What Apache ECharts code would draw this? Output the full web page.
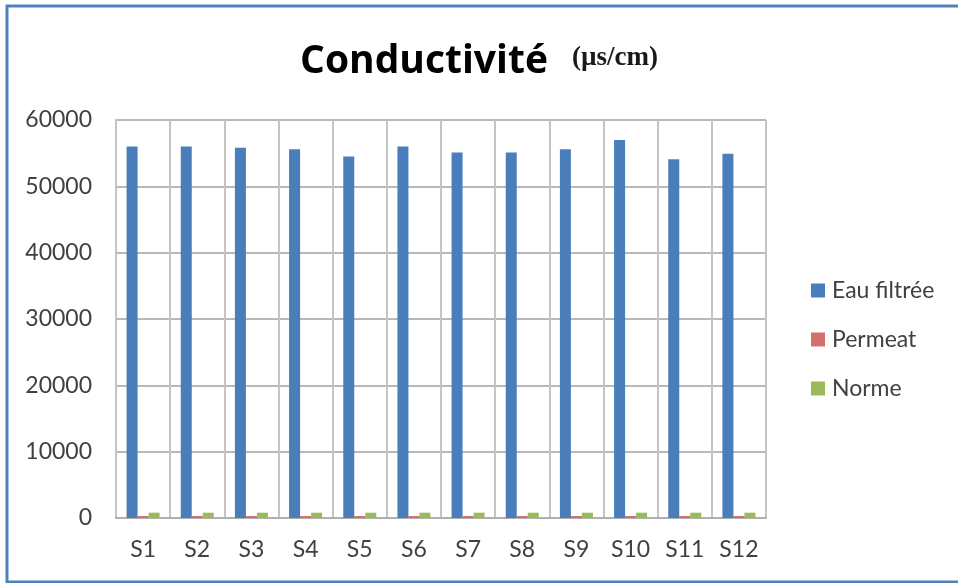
<!DOCTYPE html>
<html>
<head>
<meta charset="utf-8">
<script src="https://cdn.jsdelivr.net/npm/echarts@6/dist/echarts.min.js"></script>
<style>
  html, body { margin: 0; padding: 0; background: #fff; }
  #chart { width: 958px; height: 583px; }
</style>
</head>
<body>
<div id="chart"></div>
<script>
const categories = ['S1', 'S2', 'S3', 'S4', 'S5', 'S6', 'S7', 'S8', 'S9', 'S10', 'S11', 'S12']
const eauFiltree = [56000, 56000, 55800, 55600, 54500, 56000, 55100, 55100, 55600, 57000, 54100, 54900]
const permeat = [300, 300, 300, 300, 300, 300, 300, 300, 300, 300, 300, 300]
const norme = [800, 800, 800, 800, 800, 800, 800, 800, 800, 800, 800, 800]
const yTicks = [0, 10000, 20000, 30000, 40000, 50000, 60000]

const labelFont = 'Lato, "Open Sans", sans-serif'
const myEcharts = echarts.init(document.getElementById('chart'))

myEcharts.setOption({
  animation: false,
  title: {
    text: '{a|Conductivité}{b|(µs/cm)}',
    left: 'center',
    top: 37,
    textStyle: {
      rich: {
        a: { fontFamily: '"Open Sans", sans-serif', fontWeight: 'bold', fontSize: 39, color: '#000' },
        b: { fontFamily: '"Liberation Serif", serif', fontWeight: 'bold', fontSize: 27, color: '#1a1a1a', padding: [0, 0, 6, 24] },
      },
    },
  },
  graphic: [{
    type: 'rect',
    shape: { x: 7, y: 6, width: 1000, height: 576 },
    style: { fill: 'none', stroke: '#4f81bd', lineWidth: 3 },
    silent: true,
  }],
  legend: {
    orient: 'vertical',
    left: 806,
    top: 274,
    itemWidth: 14,
    itemHeight: 14,
    itemGap: 26,
    icon: 'rect',
    textStyle: { fontFamily: labelFont, fontSize: 23, color: '#404040', padding: [0, 0, 0, 2] },
    data: ['Eau filtrée', 'Permeat', 'Norme'],
  },
  grid: { left: 116, right: 192, top: 120, bottom: 65 },
  xAxis: {
    type: 'category',
    data: categories,
    axisLine: { lineStyle: { color: '#b0b0b0', width: 2 } },
    axisTick: { show: false },
    axisLabel: { fontFamily: labelFont, fontSize: 23, color: '#404040', margin: 20 },
    splitLine: { show: true, lineStyle: { color: '#c4c4c4', width: 2 } },
  },
  yAxis: {
    type: 'value',
    min: yTicks[0],
    max: yTicks[yTicks.length - 1],
    interval: 10000,
    axisLine: { show: true, lineStyle: { color: '#c4c4c4', width: 2 } },
    axisTick: { show: false },
    axisLabel: { fontFamily: labelFont, fontSize: 23, color: '#404040', margin: 24, formatter: v => String(v) },
    splitLine: { lineStyle: { color: '#b8b8b8', width: 2 } },
  },
  series: [
    { name: 'Eau filtrée', type: 'bar', data: eauFiltree, barWidth: 11, barGap: '0%', itemStyle: { color: '#4a7ebb' } },
    { name: 'Permeat', type: 'bar', data: permeat, barWidth: 11, barGap: '0%', itemStyle: { color: '#d2716e' } },
    { name: 'Norme', type: 'bar', data: norme, barWidth: 11, barGap: '0%', itemStyle: { color: '#9bbb59' } },
  ],
})
</script>
</body>
</html>
